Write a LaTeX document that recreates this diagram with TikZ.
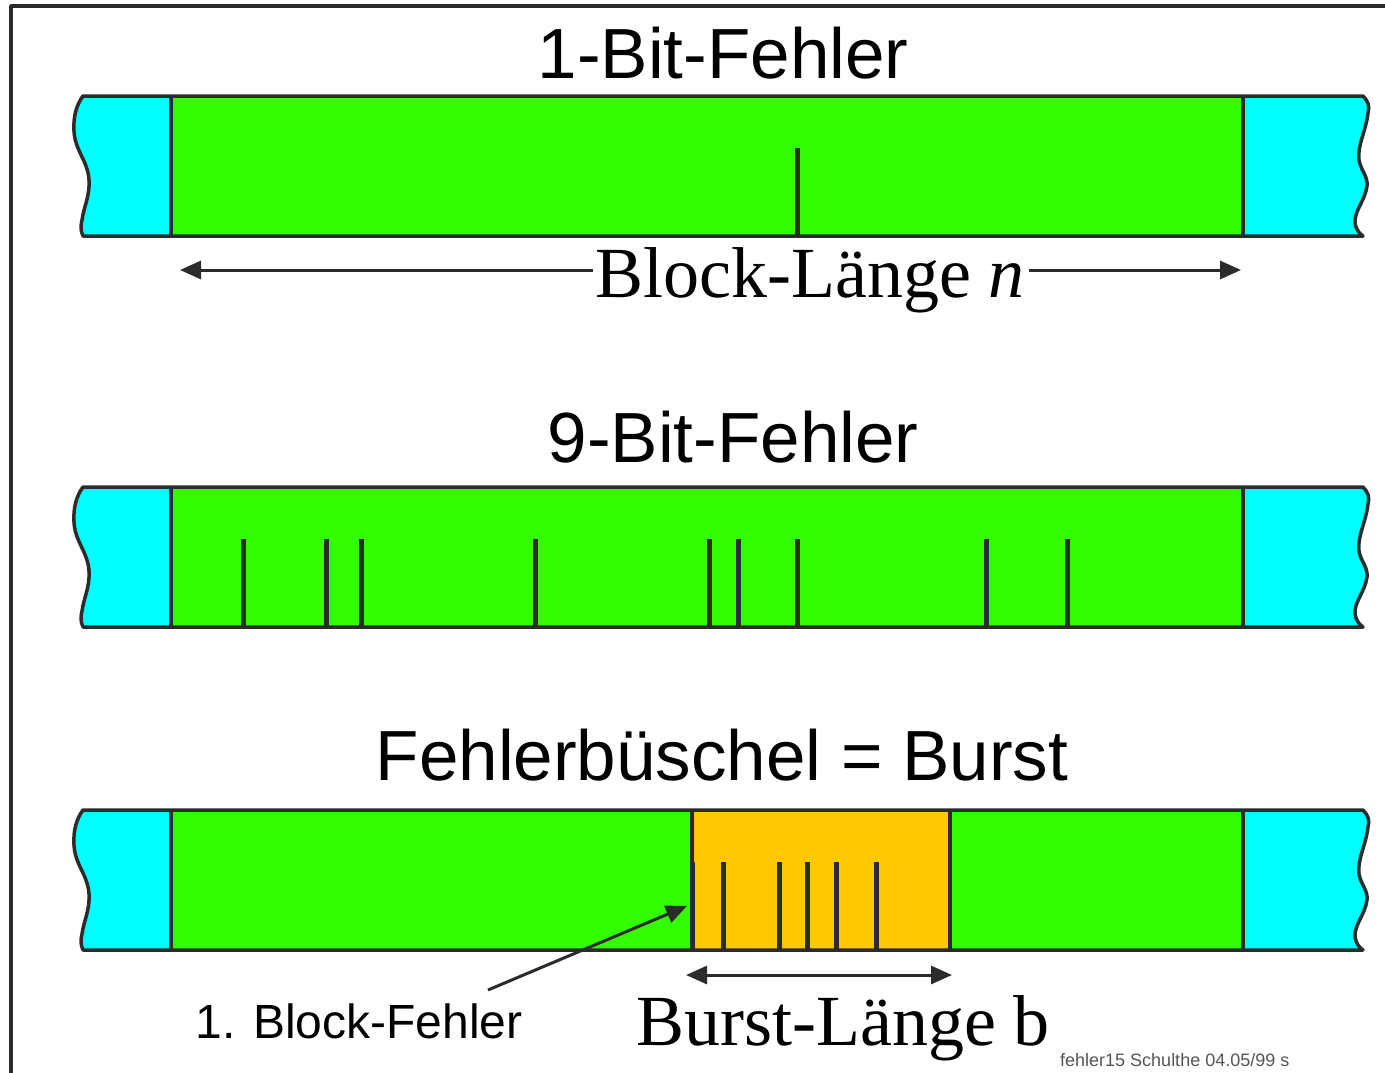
\documentclass[tikz,border=0pt]{standalone}
\usepackage{fontspec}
\setmainfont{Liberation Sans}
\newfontfamily\serifface{Liberation Serif}
\usetikzlibrary{arrows.meta}
\definecolor{cyanfill}{HTML}{00FFFF}
\definecolor{greenfill}{HTML}{33FF00}
\definecolor{burstfill}{HTML}{FFC800}
\definecolor{ink}{HTML}{2B2B2B}

% outline of one data block with torn (wavy) ends, local y from 0 (top) to 140 (bottom)
\newcommand\blockoutline{(83,0) -- (1363,0)
  .. controls (1368,5) and (1370,10) .. (1368,17)
  .. controls (1366,35) and (1357,50) .. (1359,64)
  .. controls (1361,75) and (1368,80) .. (1367,90)
  .. controls (1365,105) and (1354,115) .. (1355,127)
  .. controls (1356,134) and (1360,138) .. (1363,140)
  -- (83,140)
  .. controls (80,134) and (81,128) .. (82,124)
  .. controls (84,110) and (90,100) .. (89,84)
  .. controls (88,65) and (75,55) .. (74,35)
  .. controls (73,20) and (77,8) .. (83,0) -- cycle}

\begin{document}
\begin{tikzpicture}[x=1pt, y=-1pt, line join=round,
  outline/.style={draw=ink, line width=3.5pt},
  errbit/.style={draw=ink, line width=5pt},
  dim/.style={draw=ink, line width=3pt, -{Triangle[length=21pt,width=18pt]}},
  dimboth/.style={draw=ink, line width=3pt, {Triangle[length=21pt,width=18pt]}-{Triangle[length=21pt,width=18pt]}},
  title/.style={font=\fontsize{71}{80}\selectfont, inner sep=0pt, anchor=base},
  seriflabel/.style={font=\serifface\fontsize{72}{80}\selectfont, inner sep=0pt, anchor=base},
  smalllabel/.style={font=\fontsize{48}{56}\selectfont, inner sep=0pt, anchor=base},
  tinylabel/.style={font=\fontsize{18}{22}\selectfont, inner sep=0pt, anchor=base west, text=ink!80}]

\useasboundingbox (0,0) rectangle (1385,1072);
\clip (0,0) rectangle (1385,1072);

% sheet frame
\draw[ink, line width=3.5pt] (1420,6) -- (11,6) -- (11,1100);

% ---------- 1-bit error ----------
\node[title] (t1) at (723,78) {1-Bit-Fehler};
\begin{scope}[shift={(0,96)}]
  \fill[cyanfill] \blockoutline;
  \fill[greenfill] (171,0) rectangle (1243,140);
  \draw[outline] (171,0) -- (171,140) (1243,0) -- (1243,140);
  \draw[outline] \blockoutline;
  \draw[errbit] (797,52) -- (797,140);
\end{scope}
\node[seriflabel] (blen) at (810,297) {Block-Länge \textit{n}};
\coordinate (bl) at (180,270);
\coordinate (br) at (1241,270);
\draw[dim] ([xshift=-2pt]blen.west |- bl) -- (bl);
\draw[dim] ([xshift=4pt]blen.east |- br) -- (br);

% ---------- 9-bit error ----------
\node[title] (t2) at (733,462) {9-Bit-Fehler};
\begin{scope}[shift={(0,487)}]
  \fill[cyanfill] \blockoutline;
  \fill[greenfill] (171,0) rectangle (1243,140);
  \draw[outline] (171,0) -- (171,140) (1243,0) -- (1243,140);
  \draw[outline] \blockoutline;
  \foreach \bx in {243,326,361,535,709,738,797,986,1067}
    \draw[errbit] (\bx,52) -- (\bx,140);
\end{scope}

% ---------- burst ----------
\node[title] (t3) at (722,780) {Fehlerbüschel = Burst};
\begin{scope}[shift={(0,810)}]
  \fill[cyanfill] \blockoutline;
  \fill[greenfill] (171,0) rectangle (1243,140);
  \fill[burstfill] (692,0) rectangle (950,140);
  \draw[outline] (171,0) -- (171,140) (1243,0) -- (1243,140);
  \draw[outline] (692,0) -- (692,140) (950,0) -- (950,140);
  \draw[outline] \blockoutline;
  \foreach \bx in {692,723,779,807,836,876}
    \draw[errbit] (\bx,52) -- (\bx,140);
  \coordinate (firsterr) at (687,96);
\end{scope}

\coordinate (bsl) at (686,975);
\coordinate (bsr) at (952,975);
\draw[dimboth] (bsl) -- (bsr);
\node[seriflabel] (bslen) at (843,1045) {Burst-Länge b};

\node[smalllabel] (first) at (359,1038) {1. Block-Fehler};
\coordinate (ptr) at (488,990);
\draw[dim] (ptr) -- (firsterr);

\node[tinylabel] (file) at (1060,1066) {fehler15 Schulthe 04.05/99 s};

\end{tikzpicture}
\end{document}
